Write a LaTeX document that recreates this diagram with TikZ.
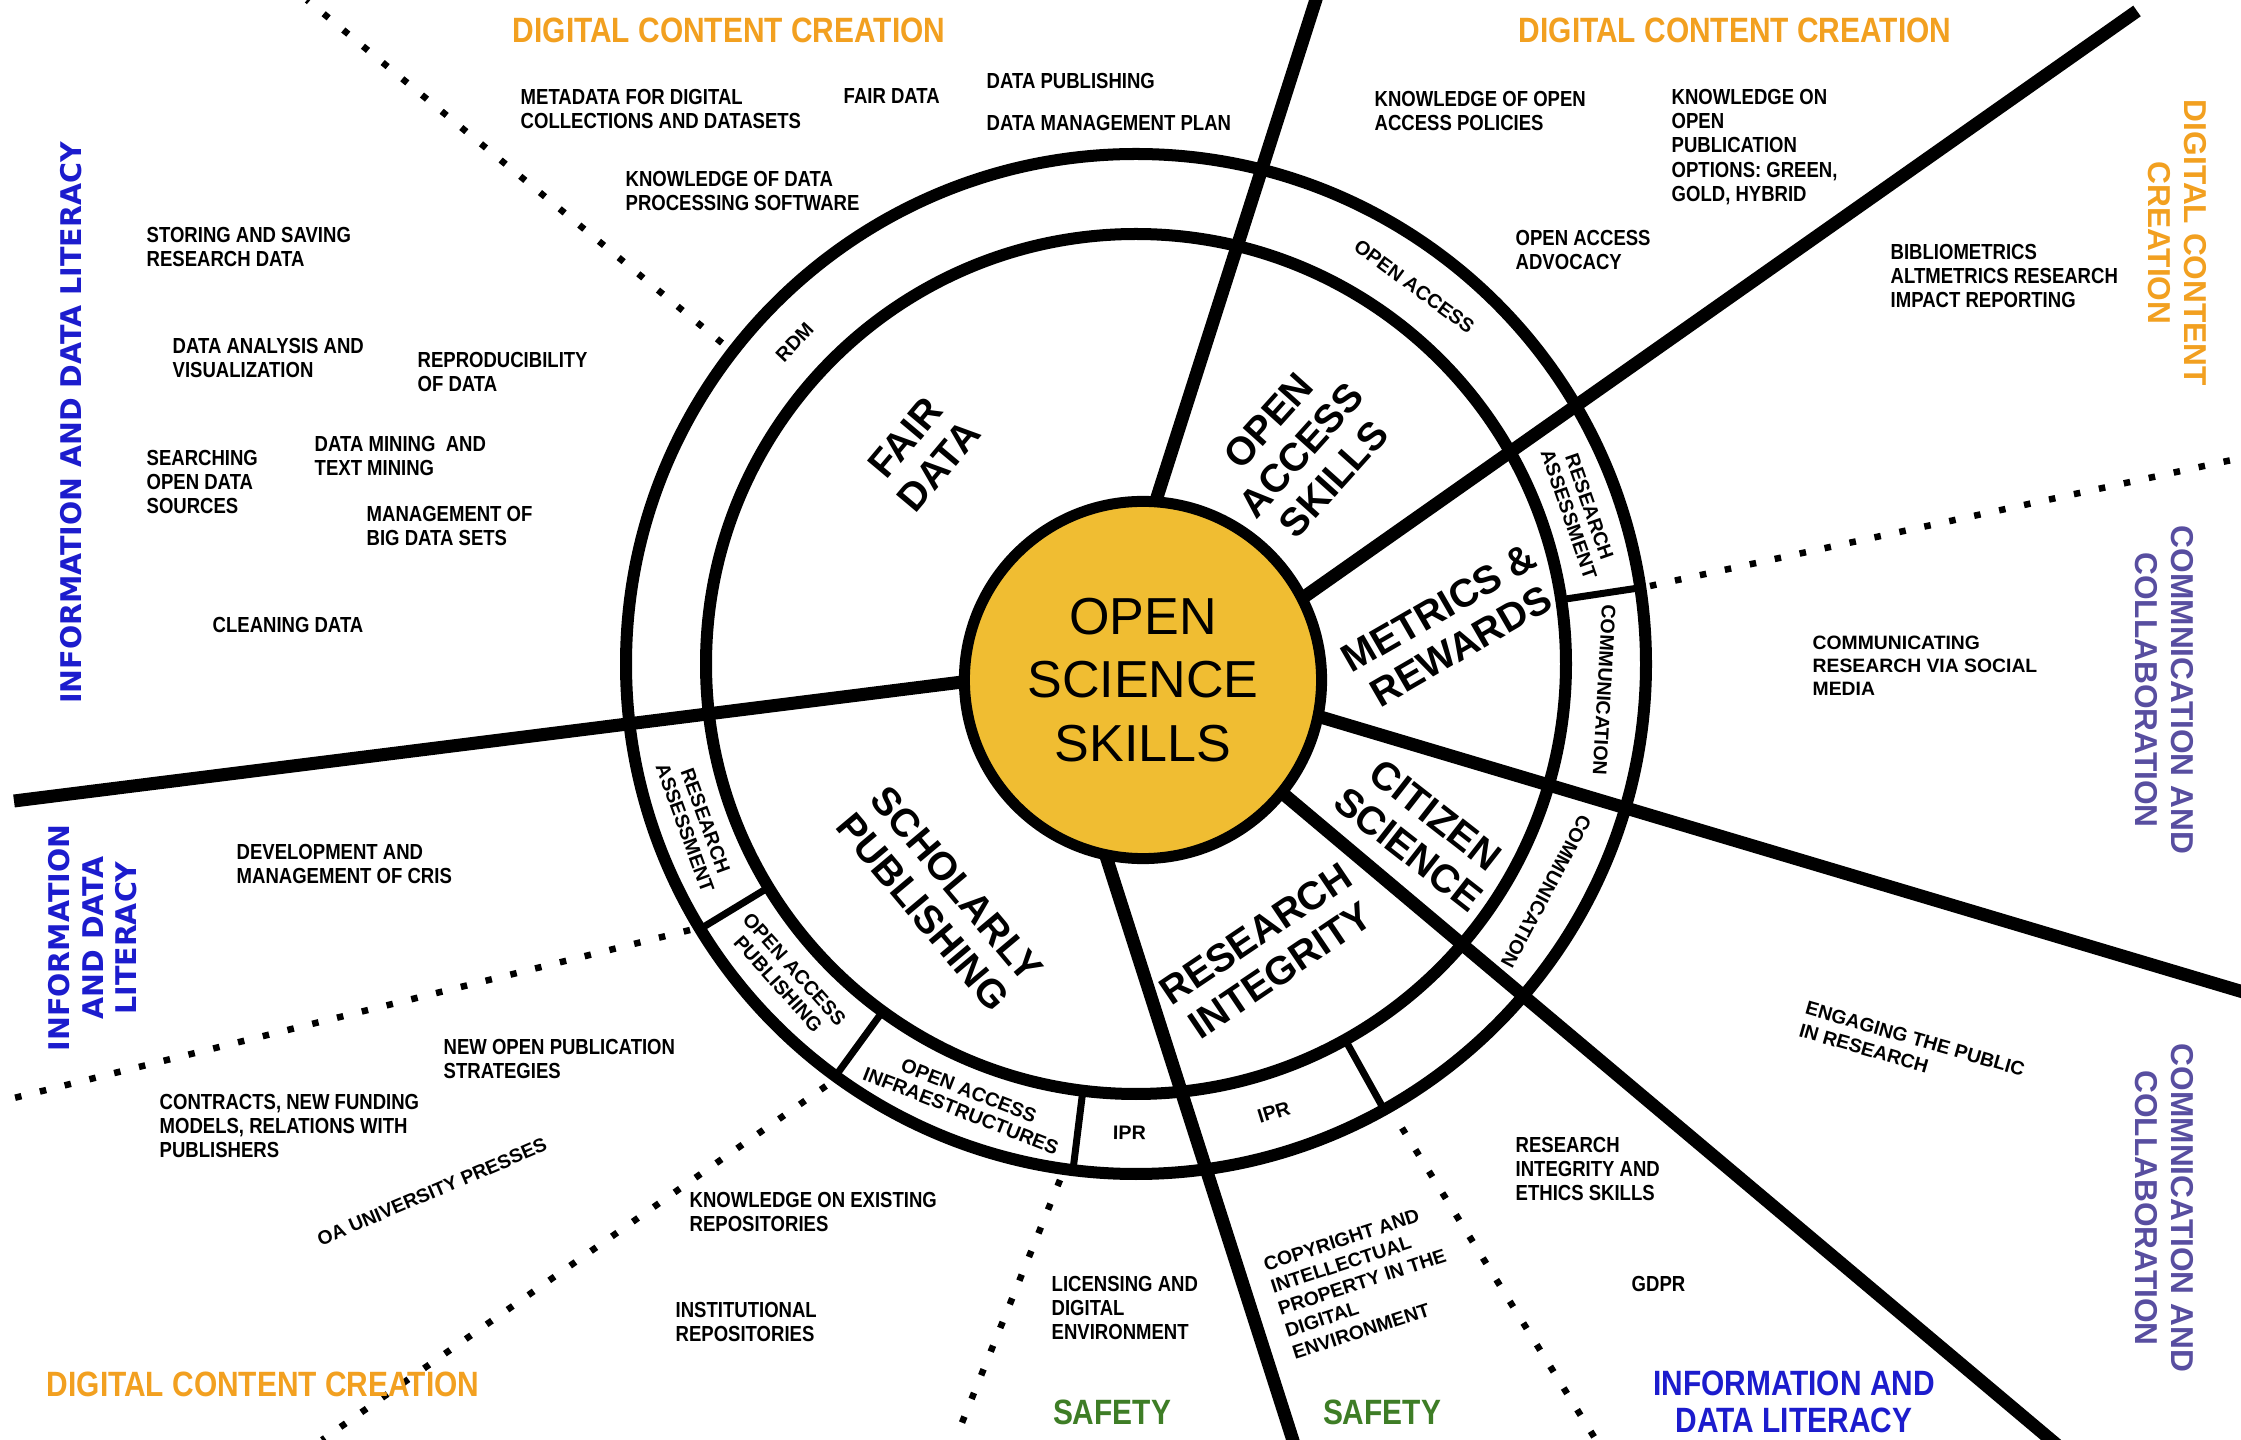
\documentclass[tikz,border=0pt]{standalone}
\usepackage{fontspec}
\setmainfont{Liberation Sans}
\newfontfamily\narrowfont[FakeStretch=0.85]{Liberation Sans}
\newfontfamily\widefont{DejaVu Sans}
\usetikzlibrary{positioning}
\definecolor{ossyellow}{RGB}{240,189,50}
\definecolor{dccorange}{RGB}{242,160,32}
\definecolor{idlblue}{RGB}{28,28,205}
\definecolor{ccpurple}{RGB}{88,78,160}
\definecolor{safegreen}{RGB}{62,125,38}

\begin{document}
\begin{tikzpicture}[
        x = 0.01cm, y = -0.01cm, % one unit = one pixel, y downwards
        spoke/.style = {line width=0.13cm},
        ring/.style = {line width=0.12cm},
        divider/.style = {line width=0.07cm},
        dots/.style = {line width=0.065cm, dash pattern=on 0.065cm off 0.19cm},
        skill/.style = {font=\narrowfont\bfseries\fontsize{6.2}{6.9}\selectfont,
            align=left, anchor=west, inner sep=0pt},
        tilted/.style = {font=\bfseries\fontsize{5.5}{6.6}\selectfont,
            align=left, inner sep=0pt},
        band/.style = {font=\bfseries\fontsize{5.6}{6.2}\selectfont,
            align=center, inner sep=0pt},
        sector/.style = {font=\bfseries\fontsize{11.2}{12.5}\selectfont,
            align=center, inner sep=0pt},
        heading/.style = {font=\narrowfont\bfseries\fontsize{10}{10.5}\selectfont,
            align=center, inner sep=0pt},
        side/.style = {font=\bfseries\fontsize{9}{10.3}\selectfont,
            align=center, inner sep=0pt},
        wide/.style = {font=\widefont\bfseries\fontsize{8.1}{9.5}\selectfont,
            align=center, inner sep=0pt, text=idlblue}
    ]
    \useasboundingbox (0,0) rectangle (2241,1440);
    \fill[white] (0,0) rectangle (2241,1440);
    \clip (0,0) rectangle (2241,1440);

    % centre of the two rings
    \coordinate (ring) at (1136,664);

    % spokes
    \coordinate (s1a) at (1137,560); \coordinate (s1b) at (1319,-10);
    \coordinate (s2a) at (1250,635); \coordinate (s2b) at (2137,11);
    \coordinate (s3a) at (1050,671); \coordinate (s3b) at (14,801);
    \coordinate (s4a) at (1250,696); \coordinate (s4b) at (2260,997);
    \coordinate (s5a) at (1230,749); \coordinate (s5b) at (2063,1450);
    \coordinate (s6a) at (1088,800); \coordinate (s6b) at (1296,1450);
    \foreach \s in {1,...,6}
        \draw[spoke] (s\s a) -- (s\s b);

    % rings
    \draw[ring] (ring) circle [radius=510];
    \draw[ring] (ring) circle [radius=430];

    % short dividers in the outer band
    \foreach \a in {-8.6, 148.7, 126.1, 97.1, 60.9}
        \draw[divider] ([shift={(\a:430)}]ring) -- ([shift={(\a:510)}]ring);

    % dotted lines
    \coordinate (da1) at (722,343);   \coordinate (da2) at (307,0);
    \coordinate (db1) at (1650,586);  \coordinate (db2) at (2241,458);
    \coordinate (dc1) at (690,930);   \coordinate (dc2) at (14,1098);
    \coordinate (dd1) at (826,1086);  \coordinate (dd2) at (322,1440);
    \coordinate (de1) at (1060,1180); \coordinate (de2) at (955,1440);
    \coordinate (df1) at (1402,1128); \coordinate (df2) at (1596,1440);
    \foreach \d in {a,b,c,d,e,f}
        \draw[dots] (d\d1) -- (d\d2);

    % centre
    \node[circle, draw, line width=0.11cm, fill=ossyellow, minimum size=3.57cm,
        align=center, font=\fontsize{14.8}{18}\selectfont]
        (oss) at (1143,680) {OPEN\\SCIENCE\\SKILLS};

    % inner sectors
    \node[sector, rotate=50] (fair) at (922,452) {FAIR\\DATA};
    \node[sector, rotate=48] (oas) at (1301,450) {OPEN\\ACCESS\\SKILLS};
    \node[sector, rotate=30] (metr) at (1450,627) {METRICS \&\\REWARDS};
    \node[sector, rotate=-38] (citi) at (1422,832) {CITIZEN\\SCIENCE};
    \node[sector, rotate=34] (rint) at (1268,952) {RESEARCH\\INTEGRITY};
    \node[sector, rotate=-50] (schol) at (940,898) {SCHOLARLY\\PUBLISHING};

    % outer band
    \node[band, rotate=46.7] (rdm) at ([shift={(-136.7:469)}]ring) {RDM};
    \node[band, rotate=-36.4] (oa) at ([shift={(-53.6:469)}]ring) {OPEN ACCESS};
    \node[band, rotate=-70.9] (ra1) at ([shift={(-19.1:469)}]ring) {RESEARCH\\ASSESSMENT};
    \node[band, rotate=-93.2] (com1) at ([shift={(3.2:469)}]ring) {COMMUNICATION};
    \node[band, rotate=-118] (com2) at ([shift={(29:469)}]ring) {COMMUNICATION};
    \node[band, rotate=17.1] (ipr1) at ([shift={(72.9:469)}]ring) {IPR};
    \node[band, rotate=-0.8] (ipr2) at ([shift={(90.8:469)}]ring) {IPR};
    \node[band, rotate=-21.4] (oai) at ([shift={(111.4:469)}]ring) {OPEN ACCESS\\INFRAESTRUCTURES};
    \node[band, rotate=-48.2] (oap) at ([shift={(138.2:469)}]ring) {OPEN ACCESS\\PUBLISHING};
    \node[band, rotate=-70] (ra2) at ([shift={(160:469)}]ring) {RESEARCH\\ASSESSMENT};

    % competence areas
    \node[heading, text=dccorange] (dcc1) at (729,30) {DIGITAL CONTENT CREATION};
    \node[heading, text=dccorange] (dcc2) at (1735,30) {DIGITAL CONTENT CREATION};
    \node[heading, text=dccorange] (dcc3) at (263,1384) {DIGITAL CONTENT CREATION};
    \node[side, text=dccorange, rotate=-90] (dcc4) at (2177,243) {DIGITAL CONTENT\\CREATION};
    \node[wide, rotate=90] (idl1) at (71,423) {INFORMATION AND DATA LITERACY};
    \node[wide, rotate=90] (idl2) at (93,938) {INFORMATION\\AND DATA\\LITERACY};
    \node[heading, text=idlblue] (idl3) at (1794,1402) {INFORMATION AND\\DATA LITERACY};
    \node[side, text=ccpurple, rotate=-90] (cc1) at (2164,690) {COMMNICATION AND\\COLLABORATION};
    \node[side, text=ccpurple, rotate=-90] (cc2) at (2164,1208) {COMMNICATION AND\\COLLABORATION};
    \node[heading, text=safegreen] (saf1) at (1112,1412) {SAFETY};
    \node[heading, text=safegreen] (saf2) at (1382,1412) {SAFETY};

    % skills
    \node[skill] (meta) at (520,109) {METADATA FOR DIGITAL\\COLLECTIONS AND DATASETS};
    \node[skill] (fdat) at (843,96) {FAIR DATA};
    \node[skill] (dpub) at (986,81) {DATA PUBLISHING};
    \node[skill] (dmp) at (986,123) {DATA MANAGEMENT PLAN};
    \node[skill] (soft) at (625,191) {KNOWLEDGE OF DATA\\PROCESSING SOFTWARE};
    \node[skill] (store) at (146,247) {STORING AND SAVING\\RESEARCH DATA};
    \node[skill] (anal) at (172,358) {DATA ANALYSIS AND\\VISUALIZATION};
    \node[skill] (repro) at (417,372) {REPRODUCIBILITY\\OF DATA};
    \node[skill] (srch) at (146,482) {SEARCHING\\OPEN DATA\\SOURCES};
    \node[skill] (mine) at (314,456) {DATA MINING\ \ AND\\TEXT MINING};
    \node[skill] (big) at (366,526) {MANAGEMENT OF\\BIG DATA SETS};
    \node[skill] (clean) at (212,625) {CLEANING DATA};
    \node[skill] (oapol) at (1374,111) {KNOWLEDGE OF OPEN\\ACCESS POLICIES};
    \node[skill] (opts) at (1671,147) {KNOWLEDGE ON\\OPEN\\PUBLICATION\\OPTIONS: GREEN,\\GOLD, HYBRID};
    \node[skill] (advo) at (1515,250) {OPEN ACCESS\\ADVOCACY};
    \node[skill] (bibl) at (1890,276) {BIBLIOMETRICS\\ALTMETRICS RESEARCH\\IMPACT REPORTING};
    \node[tilted, anchor=west] (socl) at (1812,666) {COMMUNICATING\\RESEARCH VIA SOCIAL\\MEDIA};
    \node[tilted, rotate=-16] (engg) at (1912,1050) {ENGAGING THE PUBLIC\\IN RESEARCH};
    \node[skill] (ethc) at (1515,1169) {RESEARCH\\INTEGRITY AND\\ETHICS SKILLS};
    \node[skill] (gdpr) at (1631,1284) {GDPR};
    \node[tilted, rotate=18] (copy) at (1362,1282) {COPYRIGHT AND\\INTELLECTUAL\\PROPERTY IN THE\\DIGITAL\\ENVIRONMENT};
    \node[skill] (licn) at (1051,1308) {LICENSING AND\\DIGITAL\\ENVIRONMENT};
    \node[skill] (cris) at (236,864) {DEVELOPMENT AND\\MANAGEMENT OF CRIS};
    \node[skill] (strat) at (443,1059) {NEW OPEN PUBLICATION\\STRATEGIES};
    \node[skill] (contr) at (159,1126) {CONTRACTS, NEW FUNDING\\MODELS, RELATIONS WITH\\PUBLISHERS};
    \node[tilted, rotate=23] (press) at (432,1192) {OA UNIVERSITY PRESSES};
    \node[skill] (krep) at (689,1212) {KNOWLEDGE ON EXISTING\\REPOSITORIES};
    \node[skill] (inst) at (675,1322) {INSTITUTIONAL\\REPOSITORIES};
\end{tikzpicture}
\end{document}
